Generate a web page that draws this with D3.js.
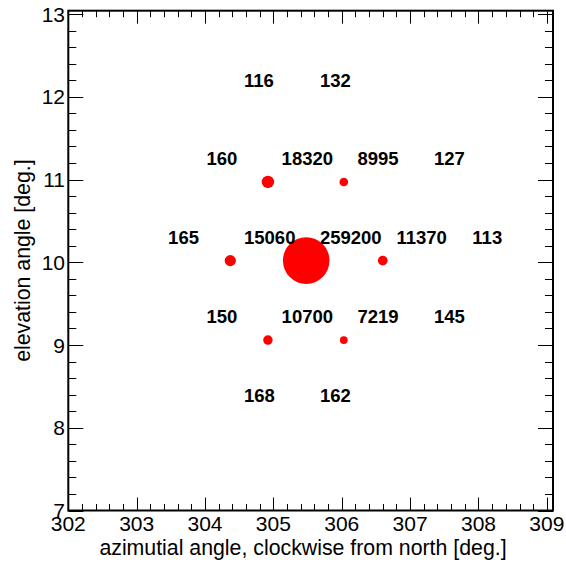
<!DOCTYPE html>
<html>
<head>
<meta charset="utf-8">
<script src="https://cdn.jsdelivr.net/npm/d3@7"></script>
<style>
  html, body { margin: 0; padding: 0; background: #fff; }
  svg { display: block; }
  text { font-family: "Liberation Sans", Arial, Helvetica, sans-serif; }
</style>
</head>
<body>
<script>
// ---- data ----
const azimuth   = [304.37, 305.48,
                   303.82, 304.92, 306.03, 307.15,
                   303.26, 304.37, 305.48, 306.60, 307.71,
                   303.82, 304.92, 306.03, 307.15,
                   304.37, 305.48];
const elevation = [11.92, 11.92,
                   10.97, 10.97, 10.97, 10.97,
                   10.02, 10.02, 10.02, 10.02, 10.02,
                   9.06, 9.06, 9.06, 9.06,
                   8.11, 8.11];
const counts    = [116, 132,
                   160, 18320, 8995, 127,
                   165, 15060, 259200, 11370, 113,
                   150, 10700, 7219, 145,
                   168, 162];
const xTicks = [302, 303, 304, 305, 306, 307, 308, 309];
const yTicks = [7, 8, 9, 10, 11, 12, 13];
const xDomain = [302, 309.09];
const yDomain = [7, 13.04];
const xTitle = "azimutial angle, clockwise from north [deg.]";
const yTitle = "elevation angle [deg.]";

const W = 566, H = 564;
const frame = { left: 68.3, right: 553, top: 10.7, bottom: 510.5 };

const svg = d3.select("body").append("svg").attr("width", W).attr("height", H);

const x = d3.scaleLinear().domain(xDomain).range([frame.left, frame.right]);
const y = d3.scaleLinear().domain(yDomain).range([frame.bottom, frame.top]);
const r = d3.scaleSqrt().domain([0, d3.max(counts)]).range([0, 23.3]);

const minorX = d3.range(302, 309.0001, 0.2).map(v => +v.toFixed(2)).filter(v => Math.abs(v - Math.round(v)) > 1e-6);
const minorY = d3.range(7, 13.0001, 0.2).map(v => +v.toFixed(2)).filter(v => Math.abs(v - Math.round(v)) > 1e-6);

// ticks (inward on all four sides)
const tickG = svg.append("g").attr("stroke", "#000").attr("stroke-width", 1);
function hTick(v, len) {
  const px = Math.round(x(v)) + 0.5;
  tickG.append("line").attr("x1", px).attr("x2", px).attr("y1", frame.bottom).attr("y2", frame.bottom - len);
  tickG.append("line").attr("x1", px).attr("x2", px).attr("y1", frame.top).attr("y2", frame.top + len);
}
function vTick(v, len) {
  const py = Math.round(y(v)) + 0.5;
  tickG.append("line").attr("y1", py).attr("y2", py).attr("x1", frame.left).attr("x2", frame.left + len);
  tickG.append("line").attr("y1", py).attr("y2", py).attr("x1", frame.right).attr("x2", frame.right - len);
}
xTicks.forEach(v => hTick(v, 13));
minorX.forEach(v => hTick(v, 6.5));
yTicks.forEach(v => vTick(v, 15));
minorY.forEach(v => vTick(v, 8));

// frame
svg.append("rect")
  .attr("x", frame.left).attr("y", frame.top)
  .attr("width", frame.right - frame.left).attr("height", frame.bottom - frame.top)
  .attr("fill", "none").attr("stroke", "#000").attr("stroke-width", 2);

// tick labels
svg.append("g").selectAll("text").data(xTicks).join("text")
  .attr("x", d => x(d)).attr("y", 531)
  .attr("text-anchor", "middle").attr("font-size", 21).attr("fill", "#000")
  .text(d => d);
svg.append("g").selectAll("text").data(yTicks).join("text")
  .attr("x", 65).attr("y", d => y(d)).attr("dy", "0.36em")
  .attr("text-anchor", "end").attr("font-size", 21).attr("fill", "#000")
  .text(d => d);

// axis titles
svg.append("text").attr("x", 303).attr("y", 555)
  .attr("text-anchor", "middle").attr("font-size", 21.3).attr("fill", "#000").text(xTitle);
svg.append("text").attr("transform", `translate(30,${(frame.top + frame.bottom) / 2}) rotate(-90)`)
  .attr("text-anchor", "middle").attr("font-size", 21.3).attr("fill", "#000").text(yTitle);

// points
const pts = azimuth.map((a, i) => ({ a, e: elevation[i], c: counts[i] }));
svg.append("g").selectAll("circle").data(pts.filter(d => r(d.c) >= 1)).join("circle")
  .attr("cx", d => x(d.a)).attr("cy", d => y(d.e)).attr("r", d => r(d.c))
  .attr("fill", "#ff0000");

// count labels
svg.append("g").selectAll("text").data(pts).join("text")
  .attr("x", d => x(d.a + 0.2)).attr("y", d => y(d.e + 0.2))
  .attr("font-size", 18.5).attr("font-weight", "bold").attr("fill", "#000")
  .text(d => d.c);
</script>
</body>
</html>
